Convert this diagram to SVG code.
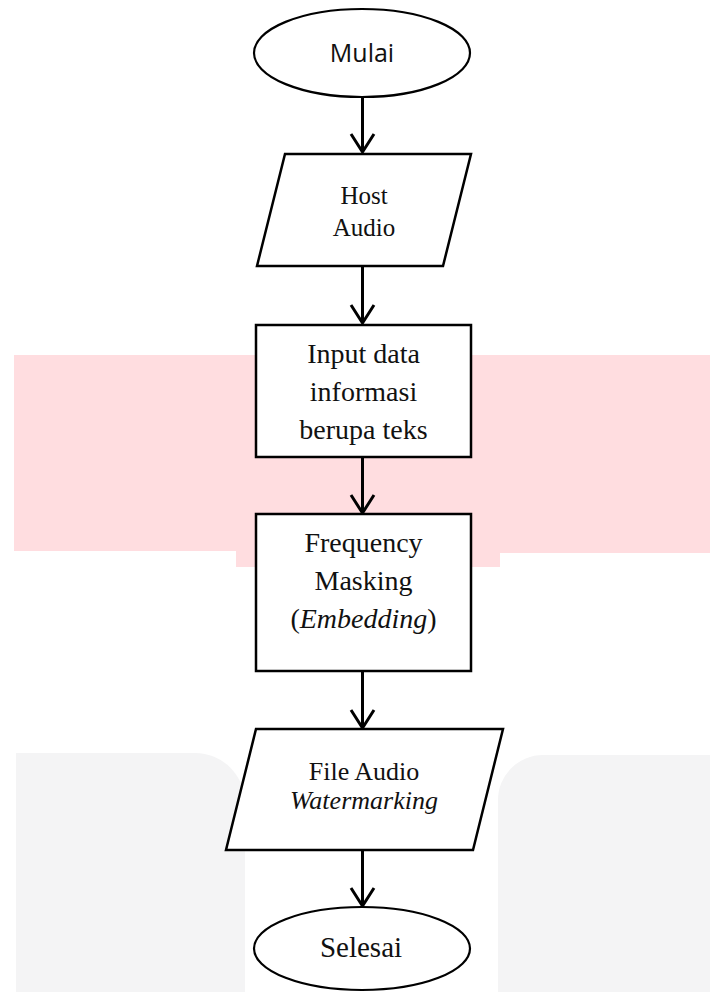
<svg xmlns="http://www.w3.org/2000/svg" width="710" height="992" viewBox="0 0 710 992">
  <defs>
    <style>
      .shape { fill: #ffffff; stroke: #000000; stroke-width: 2.5; }
      .term { fill: #ffffff; stroke: #000000; stroke-width: 2.2; }
      .lbl { font-family: "Liberation Serif", "Times New Roman", serif; fill: #111111; text-anchor: middle; }
      .sans { font-family: "Open Sans", "Noto Sans", sans-serif; fill: #111111; text-anchor: middle; }
      .conn { fill: none; stroke: #000000; stroke-width: 3; }
      .head { fill: none; stroke: #000000; stroke-width: 3; stroke-linejoin: miter; }
    </style>
  </defs>

  <rect x="0" y="0" width="710" height="992" fill="#ffffff"/>

  <!-- background bands -->
  <g id="background">
    <path d="M14 355 H710 V553 H500 V567 H236 V551 H14 Z" fill="#ffdde0"/>
    <path d="M16 753 H195 A50 50 0 0 1 245 803 V992 H16 Z" fill="#f4f4f5"/>
    <path d="M543 755 H710 V992 H498 V800 A45 45 0 0 1 543 755 Z" fill="#f4f4f5"/>
  </g>

  <!-- connectors -->
  <g id="connectors">
    <line class="conn" x1="362.5" y1="97" x2="362.5" y2="151"/>
    <polyline class="head" points="351,134 362.5,152 374,134"/>
    <line class="conn" x1="362.5" y1="266" x2="362.5" y2="322"/>
    <polyline class="head" points="351,305 362.5,323 374,305"/>
    <line class="conn" x1="362.5" y1="457" x2="362.5" y2="512"/>
    <polyline class="head" points="351,495 362.5,513 374,495"/>
    <line class="conn" x1="362.5" y1="671" x2="362.5" y2="727"/>
    <polyline class="head" points="351,710 362.5,728 374,710"/>
    <line class="conn" x1="362.5" y1="850" x2="362.5" y2="905"/>
    <polyline class="head" points="351,888 362.5,906 374,888"/>
  </g>

  <g id="mulai">
    <ellipse class="term" cx="362" cy="53" rx="108" ry="44"/>
    <text class="sans" x="362" y="62" font-size="25">Mulai</text>
  </g>

  <g id="host-audio">
    <polygon class="shape" points="285,154 471,154 443,266 257,266"/>
    <text class="lbl" x="364" y="204" font-size="25">Host</text>
    <text class="lbl" x="364" y="236" font-size="25">Audio</text>
  </g>

  <g id="input-data">
    <rect class="shape" x="256" y="325" width="215" height="132"/>
    <text class="lbl" x="363.5" y="363" font-size="28">Input data</text>
    <text class="lbl" x="363.5" y="401" font-size="28">informasi</text>
    <text class="lbl" x="363.5" y="439" font-size="28">berupa teks</text>
  </g>

  <g id="frequency-masking">
    <rect class="shape" x="256" y="514" width="215" height="157"/>
    <text class="lbl" x="363.5" y="552" font-size="28">Frequency</text>
    <text class="lbl" x="363.5" y="590" font-size="28">Masking</text>
    <text class="lbl" x="363.5" y="628" font-size="28">(<tspan font-style="italic">Embedding</tspan>)</text>
  </g>

  <g id="file-audio">
    <polygon class="shape" points="256,729 503,729 473,850 226,850"/>
    <text class="lbl" x="364" y="780" font-size="26">File Audio</text>
    <text class="lbl" x="364" y="809" font-size="26" font-style="italic">Watermarking</text>
  </g>

  <g id="selesai">
    <ellipse class="term" cx="362" cy="948.5" rx="108" ry="41.5"/>
    <text class="lbl" x="361" y="957" font-size="29">Selesai</text>
  </g>
</svg>
